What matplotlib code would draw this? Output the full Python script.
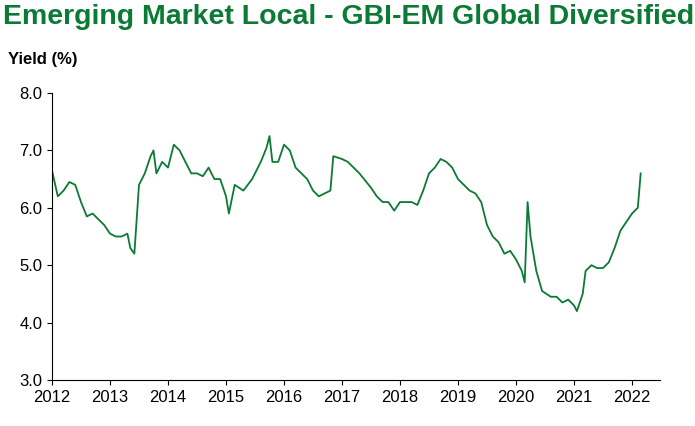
import matplotlib
matplotlib.use("Agg")
import matplotlib.pyplot as plt

dates = [2012.0,2012.1,2012.2,2012.3,2012.4,2012.5,2012.6,2012.7,2012.8,2012.9,
         2013.0,2013.1,2013.2,2013.3,2013.35,2013.42,2013.5,2013.6,2013.7,2013.75,2013.8,2013.9,
         2014.0,2014.1,2014.2,2014.3,2014.4,2014.5,2014.6,2014.7,2014.8,2014.9,
         2015.0,2015.05,2015.15,2015.3,2015.45,2015.6,2015.7,2015.75,2015.8,2015.9,
         2016.0,2016.1,2016.2,2016.3,2016.4,2016.5,2016.6,2016.7,2016.8,2016.85,
         2017.0,2017.1,2017.3,2017.5,2017.6,2017.7,2017.8,2017.9,
         2018.0,2018.2,2018.3,2018.4,2018.5,2018.6,2018.7,2018.8,2018.9,
         2019.0,2019.1,2019.2,2019.3,2019.4,2019.5,2019.6,2019.7,2019.8,2019.9,
         2020.0,2020.1,2020.15,2020.2,2020.25,2020.35,2020.45,2020.6,2020.7,2020.8,2020.9,
         2021.0,2021.05,2021.15,2021.2,2021.3,2021.4,2021.5,2021.6,2021.7,2021.8,2021.9,
         2022.0,2022.1,2022.15]
yields = [6.65,6.2,6.3,6.45,6.4,6.1,5.85,5.9,5.8,5.7,
          5.55,5.5,5.5,5.55,5.3,5.2,6.4,6.6,6.9,7.0,6.6,6.8,
          6.7,7.1,7.0,6.8,6.6,6.6,6.55,6.7,6.5,6.5,
          6.2,5.9,6.4,6.3,6.5,6.8,7.05,7.25,6.8,6.8,
          7.1,7.0,6.7,6.6,6.5,6.3,6.2,6.25,6.3,6.9,
          6.85,6.8,6.6,6.35,6.2,6.1,6.1,5.95,
          6.1,6.1,6.05,6.3,6.6,6.7,6.85,6.8,6.7,
          6.5,6.4,6.3,6.25,6.1,5.7,5.5,5.4,5.2,5.25,
          5.1,4.9,4.7,6.1,5.5,4.9,4.55,4.45,4.45,4.35,4.4,
          4.3,4.2,4.5,4.9,5.0,4.95,4.95,5.05,5.3,5.6,5.75,
          5.9,6.0,6.6]
xticks = list(range(2012, 2023))
yticks = [3.0,4.0,5.0,6.0,7.0,8.0]

green = "#0b7a35"
fig = plt.figure(figsize=(6.95,4.26), dpi=100)
ax = fig.add_axes([52/695, 1-380/426, 608/695, 287/426])
ax.plot(dates, yields, color=green, lw=1.3)
ax.set_xlim(2012, 2012+608/58)
ax.set_ylim(3, 8)
ax.set_xticks(xticks)
ax.set_xticklabels([str(t) for t in xticks])
ax.set_yticks(yticks)
ax.set_yticklabels([f"{t:.1f}" for t in yticks])
for s in ["top","right"]:
    ax.spines[s].set_visible(False)
ax.tick_params(labelsize=12, direction="out")
for lab in ax.get_xticklabels()+ax.get_yticklabels():
    lab.set_fontfamily("Liberation Sans")
fig.text(0.005, 0.99, "Emerging Market Local - GBI-EM Global Diversified", color=green,
         fontsize=20.5, fontweight="bold", family="Liberation Sans", va="top")
fig.text(0.012, 0.86, "Yield (%)", fontsize=12, fontweight="bold", family="Liberation Sans", va="center")
fig.savefig("out.png")
